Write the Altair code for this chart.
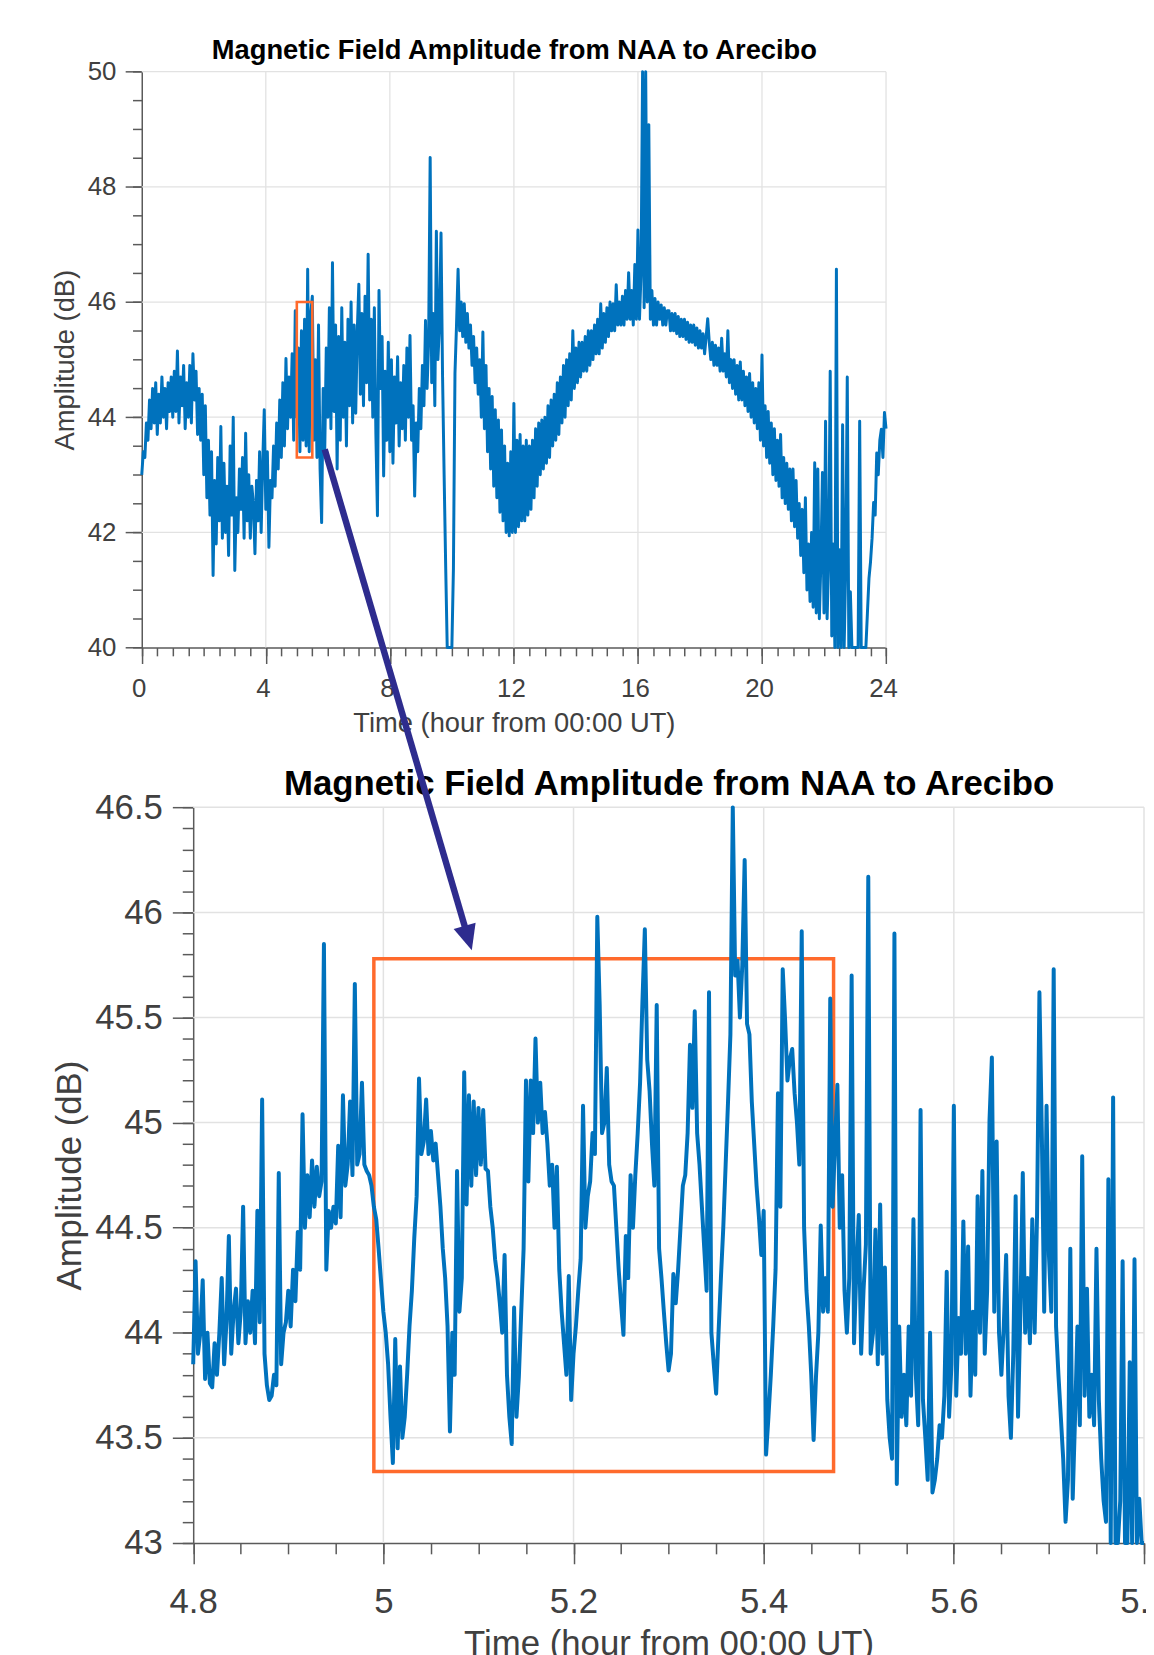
import math
import altair as alt
import pandas as pd

# ---------------- text ----------------
TITLE = "Magnetic Field Amplitude from NAA to Arecibo"
X_TITLE = "Time (hour from 00:00 UT)"
Y_TITLE = "Amplitude (dB)"

# ---------------- data ----------------
# Full day, one sample every 0.05 h starting at 0 h (20 values per hour row)
TOP_AMPLITUDE = [
    43.0, 43.4, 43.3, 43.9, 43.6, 44.3, 43.8, 44.5, 43.9, 44.6, 43.7, 44.4, 43.9, 44.7, 44.0, 44.5, 43.8, 44.6, 44.1, 44.7,
    44.0, 44.8, 44.1, 45.15, 43.9, 44.7, 44.2, 44.9, 43.8, 44.6, 44.0, 44.9, 43.9, 45.1, 44.3, 44.8, 43.7, 44.5, 43.6, 44.4,
    43.0, 44.2, 42.6, 43.6, 42.3, 43.4, 41.25, 42.9, 41.8, 43.3, 42.2, 43.84, 41.9, 43.2, 42.0, 42.8, 41.6, 43.5, 42.3, 44.0,
    41.34, 42.6, 42.0, 43.1, 42.4, 43.3, 41.9, 43.72, 42.2, 43.0, 41.9, 42.8, 42.5, 41.63, 42.9, 42.2, 43.4, 42.0, 43.2, 44.13,
    42.4, 43.4, 41.74, 42.9, 42.6, 43.5, 42.8, 43.9, 43.1, 44.3, 43.3, 44.6, 43.5, 45.02, 43.8, 44.7, 44.0, 45.1, 43.6, 45.85,
    44.0, 45.2, 43.4, 45.5, 43.6, 45.7, 43.5, 46.57, 43.4, 45.8, 46.1, 43.6, 45.0, 43.3, 45.6, 43.1, 42.17, 44.5, 43.4, 45.2,
    44.0, 45.9, 43.8, 46.68, 44.1, 45.6, 43.1, 45.4, 43.6, 45.9, 44.0, 45.3, 43.5, 45.7, 44.2, 46.0, 43.9, 45.6, 44.07, 45.5,
    46.31, 44.4, 45.8, 44.2, 46.1, 44.6, 46.83, 44.3, 45.7, 44.0, 45.9, 43.7, 42.29, 46.2, 44.5, 45.4, 42.98, 44.8, 43.6, 45.3,
    43.4, 45.0, 43.2, 44.7, 43.9, 45.05, 43.5, 44.6, 43.8, 44.9, 43.6, 45.2, 44.0, 45.42, 43.6, 44.2, 42.63, 43.9, 43.4, 44.5,
    43.8, 44.9, 44.2, 45.68, 44.5, 45.3, 48.51, 44.6, 45.8, 44.2, 47.23, 45.0, 45.6, 47.2, 44.7, 43.0, 41.42, 38.0, 38.0, 38.0,
    38.0, 41.37, 44.76, 45.6, 46.57, 45.5, 46.0, 45.4, 45.97, 45.3, 45.8, 45.2, 45.6, 44.9, 45.4, 44.6, 45.2, 44.4, 45.0, 44.0,
    45.48, 43.8, 44.9, 43.4, 44.5, 43.1, 44.36, 42.8, 44.13, 42.6, 43.95, 42.35, 43.78, 42.2, 43.5, 42.0, 43.2, 41.94, 43.4, 42.0,
    44.24, 42.0, 43.6, 42.1, 43.7, 42.2, 43.5, 42.2, 43.6, 42.3, 43.5, 42.4, 43.6, 42.6, 43.8, 42.8, 43.9, 43.0, 43.95, 43.1,
    44.0, 43.2, 44.2, 43.3, 44.3, 43.5, 44.4, 43.6, 44.6, 43.7, 44.7, 43.9, 44.9, 44.0, 45.0, 44.2, 45.1, 44.3, 45.5, 44.5,
    45.2, 44.6, 45.3, 44.7, 45.3, 44.8, 45.4, 44.8, 45.5, 44.9, 45.5, 45.0, 45.6, 45.1, 45.7, 45.1, 45.97, 45.2, 45.8, 45.3,
    45.9, 45.4, 46.0, 45.5, 45.97, 45.5, 46.3, 45.6, 46.0, 45.6, 46.1, 45.6, 46.2, 45.7, 46.51, 45.7, 46.2, 45.6, 46.65, 45.7,
    47.25, 45.7, 46.5, 51.0, 45.9, 51.0, 46.0, 49.08, 45.7, 46.2, 45.6, 46.06, 45.6, 46.0, 45.7, 45.95, 45.6, 45.9, 45.6, 45.85,
    45.85, 45.5, 45.8, 45.5, 45.8, 45.45, 45.75, 45.4, 45.7, 45.4, 45.7, 45.35, 45.65, 45.3, 45.6, 45.3, 45.6, 45.25, 45.55, 45.2,
    45.5, 45.2, 45.45, 45.1, 45.4, 45.71, 45.3, 45.0, 45.3, 44.9, 45.25, 44.9, 45.2, 44.8, 45.37, 44.8, 45.1, 44.7, 45.5, 44.6,
    45.0, 44.5, 45.0, 44.4, 44.9, 44.3, 44.96, 44.3, 44.8, 44.2, 44.7, 44.1, 44.76, 44.0, 44.6, 43.9, 44.5, 43.8, 44.6, 43.6,
    45.08, 43.5, 44.2, 43.3, 44.1, 43.2, 43.9, 43.0, 43.8, 42.9, 43.6, 42.8, 43.7, 42.6, 43.3, 42.5, 43.2, 42.4, 43.1, 42.2,
    43.1, 42.1, 42.9, 41.9, 42.5, 41.6, 42.4, 41.3, 42.6, 41.0, 41.8, 40.8, 42.0, 40.7, 43.21, 40.6, 43.1, 40.5, 41.5, 43.04,
    40.6, 43.93, 40.5, 41.5, 44.8, 40.2, 41.8, 39.5, 46.57, 39.5, 41.7, 39.5, 43.87, 39.5, 41.4, 44.7, 39.5, 40.97, 39.5, 39.0,
    39.0, 39.0, 39.0, 43.93, 39.0, 39.0, 39.0, 40.0, 40.6, 41.2, 41.49, 41.9, 42.52, 42.3, 43.38, 43.0, 43.6, 43.79, 43.3, 44.08,
    43.8,
]
TOP_START, TOP_STEP = 0.0, 0.05

# Zoomed window 4.8-5.8 h, one sample every 0.0025 h (20 values per 0.05 h row)
BOTTOM_AMPLITUDE = [
    43.85, 44.34, 43.9, 44.0, 44.25, 43.78, 44.0, 43.76, 43.74, 43.95, 43.8, 44.0, 44.26, 43.85, 44.05, 44.46, 43.9, 44.1, 44.21, 43.95,
    44.1, 44.6, 43.95, 44.15, 44.0, 44.2, 43.95, 44.58, 44.05, 45.11, 43.9, 43.75, 43.68, 43.7, 43.8, 43.75, 44.76, 43.85, 44.0, 44.05,
    44.2, 44.03, 44.3, 44.15, 44.48, 44.3, 45.04, 44.5, 44.75, 44.55, 44.82, 44.6, 44.79, 44.65, 44.72, 45.85, 44.3, 44.58, 44.5, 44.6,
    44.52, 44.89, 44.55, 45.13, 44.7, 44.8, 45.1, 44.75, 45.66, 44.8, 44.85, 45.19, 44.8, 44.77, 44.75, 44.7, 44.6, 44.54, 44.4, 44.25,
    44.1, 44.0, 43.85, 43.6, 43.38, 43.97, 43.45, 43.84, 43.5, 43.6, 43.8, 44.03, 44.2, 44.45, 44.65, 45.21, 44.85, 44.91, 45.11, 44.85,
    44.96, 44.82, 44.9, 44.75, 44.6, 44.4, 44.26, 44.03, 43.53, 44.0, 43.8, 44.77, 44.1, 44.26, 45.24, 44.61, 45.13, 44.7, 45.1, 44.75,
    45.07, 44.8, 45.06, 44.78, 44.77, 44.6, 44.5, 44.35, 44.26, 44.14, 44.0, 44.37, 43.8, 43.6, 43.47, 44.12, 43.6, 43.79, 44.1, 44.4,
    45.2, 44.72, 45.2, 44.95, 45.4, 45.0, 45.19, 44.95, 45.05, 44.9, 44.7, 44.8, 44.5, 44.79, 44.3, 44.1, 43.95, 43.8, 44.27, 43.68,
    43.9, 44.03, 44.2, 44.35, 45.08, 44.5, 44.65, 44.72, 44.95, 44.85, 45.98, 45.56, 44.95, 45.0, 45.26, 44.8, 44.72, 44.7, 44.5, 44.3,
    44.14, 43.99, 44.46, 44.26, 44.75, 44.5, 44.75, 44.95, 45.19, 45.58, 45.92, 45.3, 45.15, 44.9, 44.7, 45.56, 44.4, 44.26, 44.1, 43.95,
    43.82, 43.9, 44.28, 44.14, 44.3, 44.5, 44.7, 44.75, 44.95, 45.37, 45.07, 45.53, 44.95, 44.8, 44.6, 44.4, 44.2, 45.62, 44.0, 43.85,
    43.71, 44.0, 44.26, 44.5, 44.8, 45.1, 45.42, 46.5, 45.7, 45.77, 45.5, 45.75, 46.25, 45.47, 45.42, 45.1, 44.9, 44.7, 44.55, 44.37,
    44.58, 43.42, 43.6, 43.8, 44.03, 44.3, 45.14, 44.6, 45.73, 45.49, 45.2, 45.3, 45.35, 45.14, 45.0, 44.8, 45.91, 44.5, 44.2, 44.03,
    43.8, 43.49, 43.79, 44.0, 44.51, 44.1, 44.26, 44.1, 45.59, 44.6, 44.9, 45.18, 44.5, 44.75, 44.2, 44.0, 44.26, 45.7, 43.95, 44.3,
    44.56, 43.9, 44.2, 44.42, 46.17, 43.9, 44.0, 44.49, 43.85, 44.61, 43.9, 44.31, 43.68, 43.5, 43.4, 45.9, 43.28, 44.03, 43.6, 43.8,
    43.56, 44.03, 43.7, 44.54, 43.8, 43.56, 45.06, 43.68, 43.5, 43.3, 44.0, 43.24, 43.3, 43.4, 43.56, 43.5, 43.7, 44.29, 43.6, 43.85,
    45.08, 43.7, 44.07, 43.9, 44.53, 43.9, 44.41, 43.7, 44.1, 43.8, 44.65, 44.0, 44.77, 43.9, 44.2, 45.01, 45.31, 44.1, 44.91, 44.0,
    43.8, 44.03, 44.37, 43.7, 43.5, 43.9, 44.65, 43.6, 44.1, 44.76, 44.0, 44.26, 43.95, 44.54, 44.0, 44.56, 45.62, 44.96, 44.1, 45.08,
    44.37, 44.1, 45.73, 44.03, 43.8, 43.6, 43.4, 43.1, 43.3, 44.4, 43.21, 43.6, 44.03, 43.56, 44.84, 43.7, 44.21, 43.6, 43.8, 43.56,
    44.4, 43.68, 43.4, 43.2, 43.1, 44.73, 43.0, 45.12, 42.8, 42.6, 43.2, 44.34, 42.7, 42.9, 43.86, 42.7, 44.35, 42.6, 43.21, 42.5,
    42.8,
]
BOT_START, BOT_STEP = 4.8, 0.0025

# axes / ticks
TOP_X_DOMAIN, TOP_Y_DOMAIN = [0, 24], [40, 50]
BOT_X_DOMAIN, BOT_Y_DOMAIN = [4.8, 5.8], [43, 46.5]
TOP_X_TICKS = [0, 4, 8, 12, 16, 20, 24]
TOP_Y_TICKS = [40, 42, 44, 46, 48, 50]
BOT_X_TICKS = [4.8, 5.0, 5.2, 5.4, 5.6, 5.8]
BOT_Y_TICKS = [43.0, 43.5, 44.0, 44.5, 45.0, 45.5, 46.0, 46.5]
TOP_MINOR_X = [i * 0.5 for i in range(49)]
TOP_MINOR_Y = [40 + i * 0.5 for i in range(21)]
BOT_MINOR_X = [round(4.8 + i * 0.05, 2) for i in range(21)]
BOT_MINOR_Y = [round(43 + i * 0.1, 1) for i in range(36)]
TOP_VGRID = [4, 8, 12, 16, 20, 24]
TOP_HGRID = [42, 44, 46, 48, 50]
BOT_VGRID = [5.0, 5.2, 5.4, 5.6, 5.8]
BOT_HGRID = [43.5, 44.0, 44.5, 45.0, 45.5, 46.0, 46.5]

# annotations
TOP_BOX = dict(x0=5.0, x1=5.5, y0=43.3, y1=46.0)
BOT_BOX = dict(x0=4.99, x1=5.4735, y0=43.34, y1=45.78)
ARROW_FROM_TOP = (5.9, 43.44)     # in the day panel's units
ARROW_TO_BOTTOM = (5.093, 45.82)  # in the zoom panel's units

# ---------------- layout / style ----------------
W, H = 1146, 1647
TOP_X_RANGE, TOP_Y_RANGE = [134.7, 884.2], [638.3, 58.3]
BOT_X_RANGE, BOT_Y_RANGE = [186.5, 1144.0], [1539.9, 799.2]
FONT = "Liberation Sans"
BLUE, ORANGE, NAVY = "#0072BD", "#FF6A2C", "#2E2C8E"
GRID, AXC, TXT = "#E2E2E2", "#5A5A5A", "#404040"


def sc(domain, rng, clamp=True):
    return alt.Scale(domain=domain, range=rng, nice=False, zero=False, clamp=clamp)


def to_px(pt, xd, xr, yd, yr):
    x = xr[0] + (pt[0] - xd[0]) / (xd[1] - xd[0]) * (xr[1] - xr[0])
    y = yr[0] + (pt[1] - yd[0]) / (yd[1] - yd[0]) * (yr[1] - yr[0])
    return x, y


def from_px(px, xd, xr, yd, yr):
    t = xd[0] + (px[0] - xr[0]) / (xr[1] - xr[0]) * (xd[1] - xd[0])
    v = yd[0] + (px[1] - yr[0]) / (yr[1] - yr[0]) * (yd[1] - yd[0])
    return t, v


def ax(orient, offset, values, size, fs=26, pad=10, labels=True, domain=True, **kw):
    d = dict(orient=orient, offset=offset, values=values, grid=False, tickSize=size,
             tickColor=AXC, tickWidth=1.5, domain=domain, domainColor=AXC, domainWidth=1.5,
             labels=labels, labelFont=FONT, labelFontSize=fs, labelColor=TXT,
             labelPadding=pad, labelFlush=False, labelOverlap=False,
             titleFont=FONT, titleColor=TXT, titleFontWeight="normal")
    d.update(kw)
    return alt.Axis(**d)


top_df = pd.DataFrame({"t": [round(TOP_START + i * TOP_STEP, 4) for i in range(len(TOP_AMPLITUDE))],
                       "v": TOP_AMPLITUDE})
bot_df = pd.DataFrame({"t": [round(BOT_START + i * BOT_STEP, 5) for i in range(len(BOTTOM_AMPLITUDE))],
                       "v": BOTTOM_AMPLITUDE})

TX = lambda c=True: sc(TOP_X_DOMAIN, TOP_X_RANGE, c)
TY = lambda c=True: sc(TOP_Y_DOMAIN, TOP_Y_RANGE, c)
BX = lambda c=True: sc(BOT_X_DOMAIN, BOT_X_RANGE, c)
BY = lambda c=True: sc(BOT_Y_DOMAIN, BOT_Y_RANGE, c)

# ---------- top panel ----------
top_vgrid = alt.Chart(pd.DataFrame({"t": TOP_VGRID, "y0": TOP_Y_DOMAIN[0], "y1": TOP_Y_DOMAIN[1]})).mark_rule(
    color=GRID, strokeWidth=1.3).encode(
    x=alt.X("t:Q", scale=TX(), title=None,
            axis=ax("bottom", TOP_Y_RANGE[0] - H, TOP_MINOR_X, 8.3, labels=False, domain=False)),
    y=alt.Y("y0:Q", scale=TY(), title=None,
            axis=ax("left", -TOP_X_RANGE[0], TOP_MINOR_Y, 9.3, labels=False, domain=False)),
    y2="y1:Q")

top_hgrid = alt.Chart(pd.DataFrame({"v": TOP_HGRID, "x0": TOP_X_DOMAIN[0], "x1": TOP_X_DOMAIN[1]})).mark_rule(
    color=GRID, strokeWidth=1.3).encode(
    y=alt.Y("v:Q", scale=TY(), axis=None),
    x=alt.X("x0:Q", scale=TX(), title=TITLE,
            axis=alt.Axis(orient="top", offset=-TOP_Y_RANGE[1], labels=False, ticks=False, domain=False,
                          grid=False, titleFont=FONT, titleFontSize=27.5, titleFontWeight="bold",
                          titleColor="black", titleY=-21.5, titleBaseline="middle")),
    x2="x1:Q")

top_line = alt.Chart(top_df).mark_line(color=BLUE, strokeWidth=3.0, strokeJoin="round").encode(
    x=alt.X("t:Q", scale=TX(), title=X_TITLE,
            axis=ax("bottom", TOP_Y_RANGE[0] - H, TOP_X_TICKS, 16, fs=26, pad=12, format="d",
                    labelOffset=-3, titleFontSize=27.5, titleY=77, titleBaseline="middle")),
    y=alt.Y("v:Q", scale=TY(), title=Y_TITLE,
            axis=ax("left", -TOP_X_RANGE[0], TOP_Y_TICKS, 16.7, fs=26, pad=9.3, format="d",
                    titleFontSize=27.5, titleX=-77, titleBaseline="middle")))

top_box = alt.Chart(pd.DataFrame([TOP_BOX])).mark_rect(
    fillOpacity=0, stroke=ORANGE, strokeWidth=2.6).encode(
    x=alt.X("x0:Q", scale=TX(False), axis=None), x2="x1:Q",
    y=alt.Y("y0:Q", scale=TY(False), axis=None), y2="y1:Q")

# ---------- bottom panel ----------
bot_vgrid = alt.Chart(pd.DataFrame({"t": BOT_VGRID, "y0": BOT_Y_DOMAIN[0], "y1": BOT_Y_DOMAIN[1]})).mark_rule(
    color=GRID, strokeWidth=1.5).encode(
    x=alt.X("t:Q", scale=BX(), title=None,
            axis=ax("bottom", BOT_Y_RANGE[0] - H, BOT_MINOR_X, 11, labels=False, domain=False)),
    y=alt.Y("y0:Q", scale=BY(), title=None,
            axis=ax("left", -BOT_X_RANGE[0], BOT_MINOR_Y, 11, labels=False, domain=False)),
    y2="y1:Q")

bot_hgrid = alt.Chart(pd.DataFrame({"v": BOT_HGRID, "x0": BOT_X_DOMAIN[0], "x1": BOT_X_DOMAIN[1]})).mark_rule(
    color=GRID, strokeWidth=1.5).encode(
    y=alt.Y("v:Q", scale=BY(), axis=None),
    x=alt.X("x0:Q", scale=BX(), title=TITLE,
            axis=alt.Axis(orient="top", offset=-BOT_Y_RANGE[1], labels=False, ticks=False, domain=False,
                          grid=False, titleFont=FONT, titleFontSize=35, titleFontWeight="bold",
                          titleColor="black", titleY=-23.7, titleBaseline="middle")),
    x2="x1:Q")

bot_box = alt.Chart(pd.DataFrame([BOT_BOX])).mark_rect(
    fillOpacity=0, stroke=ORANGE, strokeWidth=3.5).encode(
    x=alt.X("x0:Q", scale=BX(False), axis=None), x2="x1:Q",
    y=alt.Y("y0:Q", scale=BY(False), axis=None), y2="y1:Q")

bot_line = alt.Chart(bot_df).mark_line(color=BLUE, strokeWidth=4.0, strokeJoin="round").encode(
    x=alt.X("t:Q", scale=BX(), title=X_TITLE,
            axis=ax("bottom", BOT_Y_RANGE[0] - H, BOT_X_TICKS, 21, fs=35, pad=21.5, format=".1~f",
                    titleFontSize=35, titleY=101, titleBaseline="middle")),
    y=alt.Y("v:Q", scale=BY(), title=Y_TITLE,
            axis=ax("left", -BOT_X_RANGE[0], BOT_Y_TICKS, 21, fs=35, pad=10, format=".1~f",
                    titleFontSize=35, titleX=-124.7, titleBaseline="middle")))

# ---------- arrow linking the two panels ----------
start_px = to_px(ARROW_FROM_TOP, TOP_X_DOMAIN, TOP_X_RANGE, TOP_Y_DOMAIN, TOP_Y_RANGE)
tip_px = to_px(ARROW_TO_BOTTOM, BOT_X_DOMAIN, BOT_X_RANGE, BOT_Y_DOMAIN, BOT_Y_RANGE)
dx, dy = tip_px[0] - start_px[0], tip_px[1] - start_px[1]
L = math.hypot(dx, dy)
ux, uy = dx / L, dy / L
HEAD_R = 12.8
head_px = (tip_px[0] - HEAD_R * ux, tip_px[1] - HEAD_R * uy)
head = from_px(head_px, TOP_X_DOMAIN, TOP_X_RANGE, TOP_Y_DOMAIN, TOP_Y_RANGE)
angle = (-math.degrees(math.atan2(ux, uy))) % 360

arrow_df = pd.DataFrame({"x0": [ARROW_FROM_TOP[0]], "y0": [ARROW_FROM_TOP[1]],
                         "x1": [head[0]], "y1": [head[1]]})
arrow = alt.Chart(arrow_df).mark_rule(color=NAVY, strokeWidth=6.5, strokeCap="butt").encode(
    x=alt.X("x0:Q", scale=TX(False), axis=None), x2="x1:Q",
    y=alt.Y("y0:Q", scale=TY(False), axis=None), y2="y1:Q")
arrow_head = alt.Chart(arrow_df).mark_point(
    shape="M-0.9,-1L0.9,-1L0,1Z", filled=True, opacity=1, color=NAVY,
    size=(2 * HEAD_R) ** 2, angle=angle, strokeWidth=0).encode(
    x=alt.X("x1:Q", scale=TX(False), axis=None),
    y=alt.Y("y1:Q", scale=TY(False), axis=None))

chart = alt.layer(
    top_vgrid, top_hgrid, bot_vgrid, bot_hgrid,
    bot_box, bot_line, top_line, top_box, arrow, arrow_head,
).resolve_scale(x="independent", y="independent").properties(
    width=W, height=H, autosize=alt.AutoSizeParams(type="none"), padding=0,
).configure_view(stroke=None)

chart.save("out.html", embed_options={"renderer": "svg", "actions": False})
